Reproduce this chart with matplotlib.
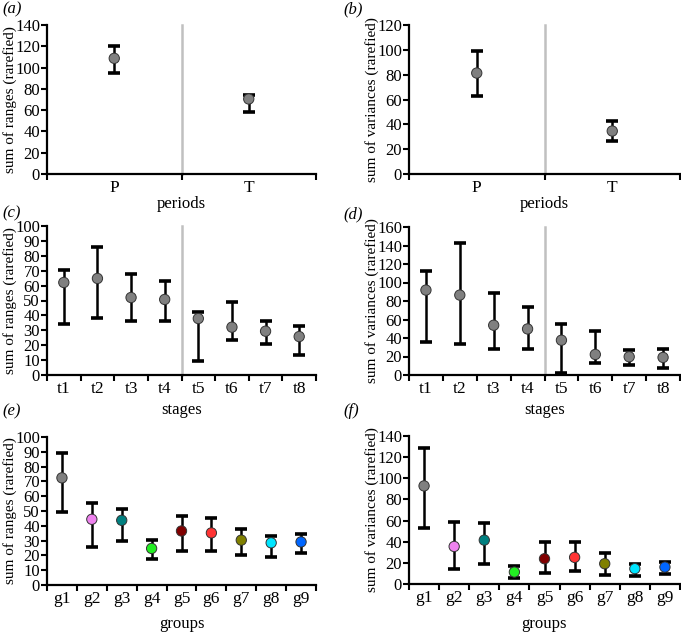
import matplotlib
matplotlib.use("Agg")
import matplotlib.pyplot as plt
import numpy as np

plt.rcParams['font.family'] = ['Liberation Serif', 'DejaVu Serif']

# ---- data ----
periods = ['P', 'T']
a_mean = [108.7, 70.5]
a_lo = [94.9, 57.9]
a_hi = [120.0, 74.2]

b_mean = [81.3, 34.6]
b_lo = [63.1, 26.6]
b_hi = [99.3, 42.7]

stages = ['t1', 't2', 't3', 't4', 't5', 't6', 't7', 't8']
c_mean = [62.1, 64.8, 52.0, 50.7, 37.9, 32.1, 29.4, 25.8]
c_lo = [33.9, 38.1, 36.5, 36.5, 9.2, 23.3, 21.1, 13.7]
c_hi = [70.2, 85.9, 67.9, 62.8, 42.4, 49.3, 36.3, 33.2]

d_mean = [91.8, 86.4, 53.8, 49.8, 37.6, 22.2, 19.7, 19.0]
d_lo = [35.5, 33.7, 28.3, 28.3, 2.2, 12.9, 10.8, 7.5]
d_hi = [112.5, 142.7, 88.9, 73.5, 55.2, 47.3, 26.9, 27.6]

groups = ['g1', 'g2', 'g3', 'g4', 'g5', 'g6', 'g7', 'g8', 'g9']
group_colors = ['#808080', '#ee82ee', '#008080', '#22ee22', '#800000',
                '#ff3333', '#808000', '#00e5ff', '#0066ff']
e_mean = [72.4, 44.4, 43.7, 24.7, 36.5, 35.2, 30.3, 28.5, 29.1]
e_lo = [49.3, 26.0, 29.8, 17.3, 23.1, 22.9, 20.0, 18.6, 21.7]
e_hi = [89.2, 55.2, 51.3, 30.3, 46.9, 45.0, 37.9, 33.0, 34.3]

f_mean = [92.8, 35.5, 41.5, 11.3, 23.9, 25.2, 19.2, 14.5, 16.0]
f_lo = [53.1, 14.5, 18.9, 6.0, 10.4, 12.0, 8.8, 7.5, 9.4]
f_hi = [128.3, 58.5, 57.5, 17.0, 39.6, 39.6, 28.9, 19.2, 21.0]

W, H = 681, 634
fig = plt.figure(figsize=(W / 100, H / 100), dpi=100)


def px_axes(l, r, top, bot):
    return fig.add_axes([l / W, 1 - bot / H, (r - l) / W, (bot - top) / H])


def panel(ax, cats, mean, lo, hi, ymax, ystep, ylabel, xlabel, label_px,
          colors=None, divider=None):
    n = len(cats)
    x = np.arange(n) + 0.5
    mean = np.array(mean)
    yerr = [mean - np.array(lo), np.array(hi) - mean]
    if divider is not None:
        ax.plot([divider, divider], [0, ymax], color='#c0c0c0', lw=1.8,
                zorder=1, clip_on=False)
    ax.errorbar(x, mean, yerr=yerr, fmt='none', ecolor='black', elinewidth=1.8,
                capsize=4.2, capthick=2.6, zorder=2)
    if colors is None:
        colors = ['#808080'] * n
    ax.scatter(x, mean, s=55, c=colors, edgecolors='#333333', linewidths=0.7,
               zorder=3)
    ax.set_xlim(0, n)
    ax.set_ylim(0, ymax)
    ax.set_yticks(np.arange(0, ymax + 0.1, ystep))
    ax.set_xticks(np.arange(0, n + 1))
    ax.set_xticklabels([])
    ax.set_xticks(x, minor=True)
    ax.set_xticklabels(cats, minor=True)
    ax.tick_params(axis='x', which='minor', length=0, labelsize=12.5, pad=4)
    ax.tick_params(axis='x', which='major', length=4, width=1.5, direction='out')
    ax.tick_params(axis='y', length=4, width=1.5, direction='out', labelsize=12,
                   pad=1)
    for s in ['top', 'right']:
        ax.spines[s].set_visible(False)
    for s in ['left', 'bottom']:
        ax.spines[s].set_linewidth(1.6)
    pos = ax.get_position()
    ax.set_ylabel(ylabel, fontsize=11)
    ax.yaxis.label.set_va('center')
    ax.yaxis.set_label_coords(-37 / (pos.width * W), 0.5)
    ax.set_xlabel(xlabel, fontsize=12)
    ax.xaxis.label.set_va('center')
    # x-label centre sits this many pixels below the axis line
    ax.xaxis.set_label_coords(0.5, -label_px / (pos.height * H))


ax_a = px_axes(47, 316, 25, 174)
panel(ax_a, periods, a_mean, a_lo, a_hi, 140, 20, 'sum of ranges (rarefied)',
      'periods', 30, divider=1)
ax_b = px_axes(409, 680, 25, 174)
panel(ax_b, periods, b_mean, b_lo, b_hi, 120, 20, 'sum of variances (rarefied)',
      'periods', 30, divider=1)
ax_c = px_axes(47, 316, 226, 375)
panel(ax_c, stages, c_mean, c_lo, c_hi, 100, 10, 'sum of ranges (rarefied)',
      'stages', 35, divider=4)
ax_d = px_axes(409, 680, 227, 375)
panel(ax_d, stages, d_mean, d_lo, d_hi, 160, 20, 'sum of variances (rarefied)',
      'stages', 35, divider=4)
ax_e = px_axes(47, 316, 437, 585)
panel(ax_e, groups, e_mean, e_lo, e_hi, 100, 10, 'sum of ranges (rarefied)',
      'groups', 39, colors=group_colors)
ax_f = px_axes(409, 680, 436, 584)
panel(ax_f, groups, f_mean, f_lo, f_hi, 140, 20, 'sum of variances (rarefied)',
      'groups', 40, colors=group_colors)

for lab, (px, py) in zip(['(a)', '(b)', '(c)', '(d)', '(e)', '(f)'],
                         [(2, 9), (343, 9), (2, 213), (343, 214), (2, 411), (343, 411)]):
    fig.text(px / W, 1 - py / H, lab, fontsize=12, style='italic', va='center',
             ha='left')

fig.savefig('out.png', dpi=100)
